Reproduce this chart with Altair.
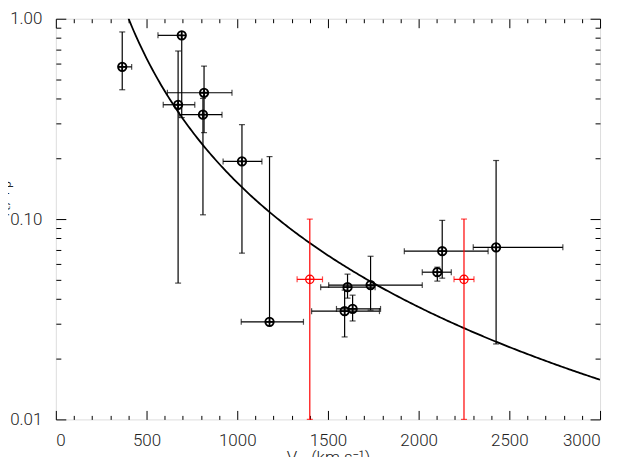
import altair as alt
import pandas as pd

# ---- data ----
vsw   = [366, 694, 674, 817, 811, 1026, 1178, 1400, 1608, 1735, 1592, 1636, 2130, 2103, 2250, 2427]
ratio = [0.575, 0.826, 0.372, 0.427, 0.332, 0.194, 0.0307, 0.050, 0.0457, 0.0468, 0.0347, 0.0356, 0.0691, 0.0543, 0.050, 0.0723]
x_lo  = [346, 563, 592, 615, 680, 922, 1022, 1330, 1460, 1504, 1410, 1547, 1921, 2020, 2195, 2301]
x_hi  = [418, 694, 766, 971, 916, 1136, 1365, 1470, 1760, 2020, 1784, 1790, 2383, 2180, 2305, 2795]
y_lo  = [0.442, 0.321, 0.0479, 0.27, 0.105, 0.0676, 0.0307, 0.010, 0.0403, 0.0351, 0.0258, 0.031, 0.0507, 0.049, 0.010, 0.0238]
y_hi  = [0.859, 0.826, 0.690, 0.580, 0.40, 0.296, 0.205, 0.100, 0.0531, 0.0652, 0.0442, 0.0417, 0.0985, 0.0575, 0.100, 0.196]
group = ["in", "in", "in", "in", "in", "in", "in", "out", "in", "in", "in", "in", "in", "in", "out", "in"]

# power-law fit drawn as the curve: ratio = (V0 / V) ** k
fit_v0 = 401.0
fit_k = 2.062

x_major = [0, 500, 1000, 1500, 2000, 2500, 3000]
x_minor = [v for v in range(100, 3000, 100) if v % 500 != 0]
y_major = [0.01, 0.1, 1.0]
y_minor = [m * d for d in (0.01, 0.1) for m in range(2, 10)]

df = pd.DataFrame({"v": vsw, "r": ratio, "xlo": x_lo, "xhi": x_hi,
                   "ylo": y_lo, "yhi": y_hi, "g": group})

FONT = "Roboto"
xs = alt.Scale(domain=[0, 3000], nice=False, zero=False)
ys = alt.Scale(type="log", domain=[0.01, 1.0], nice=False)
col = alt.Scale(domain=["in", "out"], range=["black", "#ff0000"])


def tick_axis(orient, values, size):
    return alt.Axis(orient=orient, values=values, tickSize=size, offset=-size,
                    domain=False, labels=False, title=None, grid=False,
                    ticks=True, tickColor="black", tickWidth=1)


x_label_axis = alt.Axis(orient="bottom", values=x_major, tickSize=0, ticks=False,
                        domain=False, grid=False, labelPadding=13, labelFontSize=17,
                        labelFont=FONT, labelColor="#222", format="d",
                        labelFontWeight=300,
                        title="V\u209b\u1d65 (km s\u207b\u00b9)", titleFont=FONT, titleFontSize=17,
                        titleFontWeight=300, titleColor="#222",
                        titleX=273, titleY=43, titleAlign="center",
                        titleBaseline="alphabetic", labelOverlap=False)
y_label_axis = alt.Axis(orient="left", values=y_major, tickSize=0, ticks=False,
                        domain=False, grid=False, labelPadding=14, labelFontSize=17,
                        labelFont=FONT, labelColor="#222", format=".2f",
                        labelFontWeight=300,
                        title="T\u2091/T\u209a", titleFont=FONT, titleFontSize=17,
                        titleFontWeight=300, titleColor="#222",
                        titleX=-47, titleY=182, titleAngle=270,
                        titleAlign="center", titleBaseline="alphabetic",
                        labelOverlap=False)

x_axes = [x_label_axis,
          tick_axis("bottom", x_major, 9), tick_axis("bottom", x_minor, 4),
          tick_axis("top", x_major, 9), tick_axis("top", x_minor, 4)]
y_axes = [y_label_axis,
          tick_axis("left", y_major, 10), tick_axis("left", y_minor, 5),
          tick_axis("right", y_major, 10), tick_axis("right", y_minor, 5)]

base = alt.Chart(df)

curve = alt.Chart(alt.sequence(400, 3010, 10, as_="v")).transform_calculate(
    r=f"pow({fit_v0} / datum.v, {fit_k})"
).mark_line(color="black", strokeWidth=1.8, clip=True).encode(
    x=alt.X("v:Q", scale=xs, axis=x_axes[0]),
    y=alt.Y("r:Q", scale=ys, axis=y_axes[0]),
)

xrule = base.mark_rule(strokeWidth=1.2).encode(
    x=alt.X("xlo:Q", scale=xs, axis=x_axes[1]), x2="xhi:Q",
    y=alt.Y("r:Q", scale=ys, axis=y_axes[1]),
    color=alt.Color("g:N", scale=col, legend=None),
)
yrule = base.mark_rule(strokeWidth=1.2).encode(
    x=alt.X("v:Q", scale=xs, axis=x_axes[2]),
    y=alt.Y("ylo:Q", scale=ys, axis=y_axes[2]), y2="yhi:Q",
    color=alt.Color("g:N", scale=col, legend=None),
)
xcap_lo = base.transform_filter("datum.xlo != datum.v").mark_tick(
    orient="vertical", size=6, thickness=1.2).encode(
    x=alt.X("xlo:Q", scale=xs, axis=x_axes[3]),
    y=alt.Y("r:Q", scale=ys, axis=y_axes[3]),
    color=alt.Color("g:N", scale=col, legend=None),
)
xcap_hi = base.transform_filter("datum.xhi != datum.v").mark_tick(
    orient="vertical", size=6, thickness=1.2).encode(
    x=alt.X("xhi:Q", scale=xs, axis=x_axes[4]),
    y=alt.Y("r:Q", scale=ys, axis=y_axes[4]),
    color=alt.Color("g:N", scale=col, legend=None),
)
ycap_lo = base.transform_filter("datum.ylo != datum.r").mark_tick(
    orient="horizontal", size=6, thickness=1.2).encode(
    x=alt.X("v:Q", scale=xs, axis=None),
    y=alt.Y("ylo:Q", scale=ys, axis=None),
    color=alt.Color("g:N", scale=col, legend=None),
)
ycap_hi = base.transform_filter("datum.yhi != datum.r").mark_tick(
    orient="horizontal", size=6, thickness=1.2).encode(
    x=alt.X("v:Q", scale=xs, axis=None),
    y=alt.Y("yhi:Q", scale=ys, axis=None),
    color=alt.Color("g:N", scale=col, legend=None),
)

marker = "M-1,0A1,1,0,1,1,1,0A1,1,0,1,1,-1,0Z M-1,0L1,0 M0,-1L0,1"
points = base.mark_point(shape=marker, filled=False, opacity=1).encode(
    x=alt.X("v:Q", scale=xs, axis=None),
    y=alt.Y("r:Q", scale=ys, axis=None),
    color=alt.Color("g:N", scale=col, legend=None),
    size=alt.Size("g:N", scale=alt.Scale(domain=["in", "out"], range=[72, 70]), legend=None),
    strokeWidth=alt.StrokeWidth("g:N", scale=alt.Scale(domain=["in", "out"], range=[1.8, 1.2]), legend=None),
)

chart = alt.layer(curve, xrule, yrule, xcap_lo, xcap_hi, ycap_lo, ycap_hi, points).resolve_axis(
    x="independent", y="independent"
).properties(
    width=546, height=402,
    autosize=alt.AutoSizeParams(type="none"),
    padding={"left": 48, "top": 10, "right": 12, "bottom": 45},
).configure_view(stroke="black", strokeWidth=1).configure(background="white")

chart.save("out.html", embed_options={"renderer": "svg", "actions": False})
